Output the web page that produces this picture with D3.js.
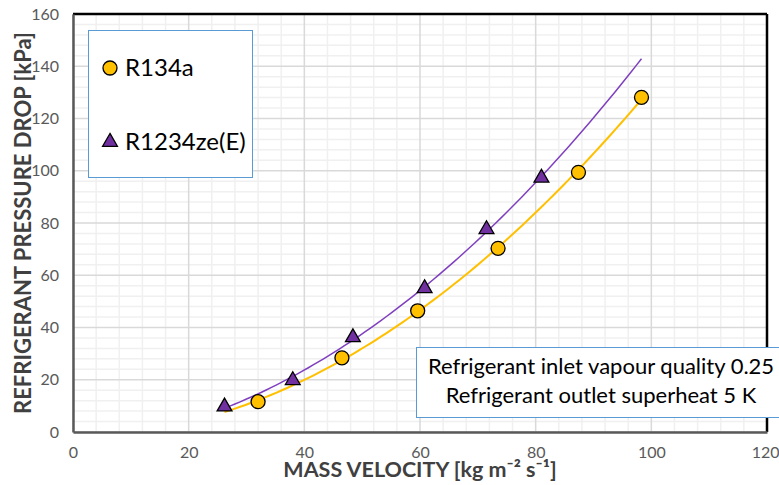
<!DOCTYPE html>
<meta charset="utf-8">
<script src="https://d3js.org/d3.v7.min.js"></script>
<style>
  body { margin: 0; background: #fff; }
  text { font-family: Lato, "Open Sans", sans-serif; }
</style>
<div id="chart"></div>
<script>

// data
var r134aX = [32.0, 46.5, 59.6, 73.5, 87.4, 98.3];
var r134aY = [11.6, 28.4, 46.4, 70.3, 99.4, 128.1];
var r1234X = [26.2, 38.0, 48.4, 60.8, 71.5, 81.0];
var r1234Y = [9.7, 19.8, 36.2, 55.0, 77.6, 97.3];

var xTicks = [0, 20, 40, 60, 80, 100, 120];
var yTicks = [0, 20, 40, 60, 80, 100, 120, 140, 160];
var legendLabels = ["R134a", "R1234ze(E)"];
var noteLines = ["Refrigerant inlet vapour quality 0.25", "Refrigerant outlet superheat 5 K"];

var W = 779, H = 485;
var margin = {top: 14, right: 12, bottom: 53, left: 73},
    width = W - margin.left - margin.right,
    height = H - margin.top - margin.bottom;

var svg = d3.select("#chart").append("svg")
    .attr("width", W)
    .attr("height", H);

var g = svg.append("g")
    .attr("transform", "translate(" + margin.left + "," + margin.top + ")");

var x = d3.scaleLinear().domain([0, 120]).range([0, width]);
var y = d3.scaleLinear().domain([0, 160]).range([height, 0]);

// minor grid (every 4 units)
var minorX = d3.range(0, 121, 4).filter(function(d) { return d % 20 != 0; });
var minorY = d3.range(0, 161, 4).filter(function(d) { return d % 20 != 0; });

g.selectAll(".mx").data(minorX).enter().append("line")
  .attr("x1", d => x(d)).attr("x2", d => x(d))
  .attr("y1", 0).attr("y2", height)
  .attr("stroke", "#f0f0f0").attr("stroke-width", 1.5);
g.selectAll(".my").data(minorY).enter().append("line")
  .attr("y1", d => y(d)).attr("y2", d => y(d))
  .attr("x1", 0).attr("x2", width)
  .attr("stroke", "#f0f0f0").attr("stroke-width", 1.5);

// major grid
g.selectAll(".gx").data(xTicks).enter().append("line")
  .attr("x1", d => x(d)).attr("x2", d => x(d))
  .attr("y1", 0).attr("y2", height)
  .attr("stroke", "#d9d9d9").attr("stroke-width", 1.5);
g.selectAll(".gy").data(yTicks).enter().append("line")
  .attr("y1", d => y(d)).attr("y2", d => y(d))
  .attr("x1", 0).attr("x2", width)
  .attr("stroke", "#d9d9d9").attr("stroke-width", 1.5);

// frame: top/right black, left/bottom gray
g.append("line").attr("x1", 0).attr("x2", width).attr("y1", 0).attr("y2", 0)
  .attr("stroke", "#000").attr("stroke-width", 2.5);
g.append("line").attr("x1", width).attr("x2", width).attr("y1", 0).attr("y2", height)
  .attr("stroke", "#000").attr("stroke-width", 2.5);

// axes
var xAxis = g.append("g")
  .attr("transform", "translate(0," + height + ")")
  .call(d3.axisBottom(x).tickValues(xTicks).tickSize(0).tickPadding(15));
var yAxis = g.append("g")
  .call(d3.axisLeft(y).tickValues(yTicks).tickSize(0).tickPadding(14));

[xAxis, yAxis].forEach(function(a) {
  a.select(".domain").attr("stroke", "#595959").attr("stroke-width", 2.5);
  a.selectAll("text").attr("fill", "#595959").style("font-size", "16px")
    .style("font-family", "Lato, sans-serif");
});
// last x label sits against the edge
xAxis.selectAll(".tick:last-of-type text").attr("text-anchor", "end").attr("dx", "12px");

// trendlines: 2nd order least squares fit through each series
function quadFit(xs, ys) {
  var s = [0, 0, 0, 0, 0], t = [0, 0, 0];
  xs.forEach(function(v, i) {
    for (var k = 0; k < 5; k++) s[k] += Math.pow(v, k);
    for (var k = 0; k < 3; k++) t[k] += ys[i] * Math.pow(v, k);
  });
  var A = [[s[0], s[1], s[2], t[0]], [s[1], s[2], s[3], t[1]], [s[2], s[3], s[4], t[2]]];
  for (var c = 0; c < 3; c++) {
    for (var r = c + 1; r < 3; r++) {
      var f = A[r][c] / A[c][c];
      for (var k = c; k < 4; k++) A[r][k] -= f * A[c][k];
    }
  }
  var p = [0, 0, 0];
  for (var r = 2; r >= 0; r--) {
    var acc = A[r][3];
    for (var k = r + 1; k < 3; k++) acc -= A[r][k] * p[k];
    p[r] = acc / A[r][r];
  }
  return function(v) { return p[0] + p[1] * v + p[2] * v * v; };
}

var allX = r134aX.concat(r1234X);
var x0 = d3.min(allX), x1 = d3.max(allX);
var steps = d3.range(0, 81).map(i => x0 + (x1 - x0) * i / 80);

var line = d3.line().x(d => x(d[0])).y(d => y(d[1]));

var fPurple = quadFit(r1234X, r1234Y);
var fYellow = quadFit(r134aX, r134aY);

g.append("path")
  .datum(steps.map(v => [v, fPurple(v)]))
  .attr("fill", "none").attr("stroke", "#7f3fbf").attr("stroke-width", 1.5)
  .attr("d", line);
g.append("path")
  .datum(steps.map(v => [v, fYellow(v)]))
  .attr("fill", "none").attr("stroke", "#ffc000").attr("stroke-width", 2)
  .attr("d", line);

// markers
var tri = d3.symbol().type(d3.symbolTriangle).size(95);

g.selectAll(".tri").data(r1234X).enter().append("path")
  .attr("d", tri)
  .attr("transform", (d, i) => "translate(" + x(d) + "," + y(r1234Y[i]) + ")")
  .attr("fill", "#7030a0").attr("stroke", "#000").attr("stroke-width", 1.3);

g.selectAll(".dot").data(r134aX).enter().append("circle")
  .attr("cx", d => x(d))
  .attr("cy", (d, i) => y(r134aY[i]))
  .attr("r", 7)
  .attr("fill", "#ffc000").attr("stroke", "#000").attr("stroke-width", 1.3);

// legend
svg.append("rect")
  .attr("x", 88.5).attr("y", 30.5).attr("width", 164).attr("height", 147)
  .attr("fill", "#fff").attr("stroke", "#5b9bd5").attr("stroke-width", 1);

svg.append("circle").attr("cx", 110).attr("cy", 68).attr("r", 7)
  .attr("fill", "#ffc000").attr("stroke", "#000").attr("stroke-width", 1.3);
svg.append("path").attr("d", tri)
  .attr("transform", "translate(110,142)")
  .attr("fill", "#7030a0").attr("stroke", "#000").attr("stroke-width", 1.3);

svg.selectAll(".leg").data(legendLabels).enter().append("text")
  .attr("x", 125)
  .attr("y", (d, i) => 76 + i * 74)
  .attr("fill", "#000")
  .style("font-size", "24px")
  .text(d => d);

// note box
svg.append("rect")
  .attr("x", 416.5).attr("y", 347.5).attr("width", 380).attr("height", 70)
  .attr("fill", "#fff").attr("stroke", "#5b9bd5").attr("stroke-width", 1);

svg.selectAll(".note").data(noteLines).enter().append("text")
  .attr("x", 601)
  .attr("y", (d, i) => 374 + i * 29)
  .attr("text-anchor", "middle")
  .attr("fill", "#000")
  .style("font-size", "22px")
  .text(d => d);

// axis titles
svg.append("text")
  .attr("x", margin.left + width / 2)
  .attr("y", 477)
  .attr("text-anchor", "middle")
  .attr("fill", "#404040")
  .style("font-size", "21.5px").style("font-weight", "bold")
  .text("MASS VELOCITY [kg m\u207B\u00B2 s\u207B\u00B9]");

svg.append("text")
  .attr("transform", "translate(31," + (margin.top + height / 2) + ") rotate(-90)")
  .attr("text-anchor", "middle")
  .attr("fill", "#404040")
  .style("font-size", "22px").style("font-weight", "bold")
  .text("REFRIGERANT PRESSURE DROP [kPa]");

</script>
